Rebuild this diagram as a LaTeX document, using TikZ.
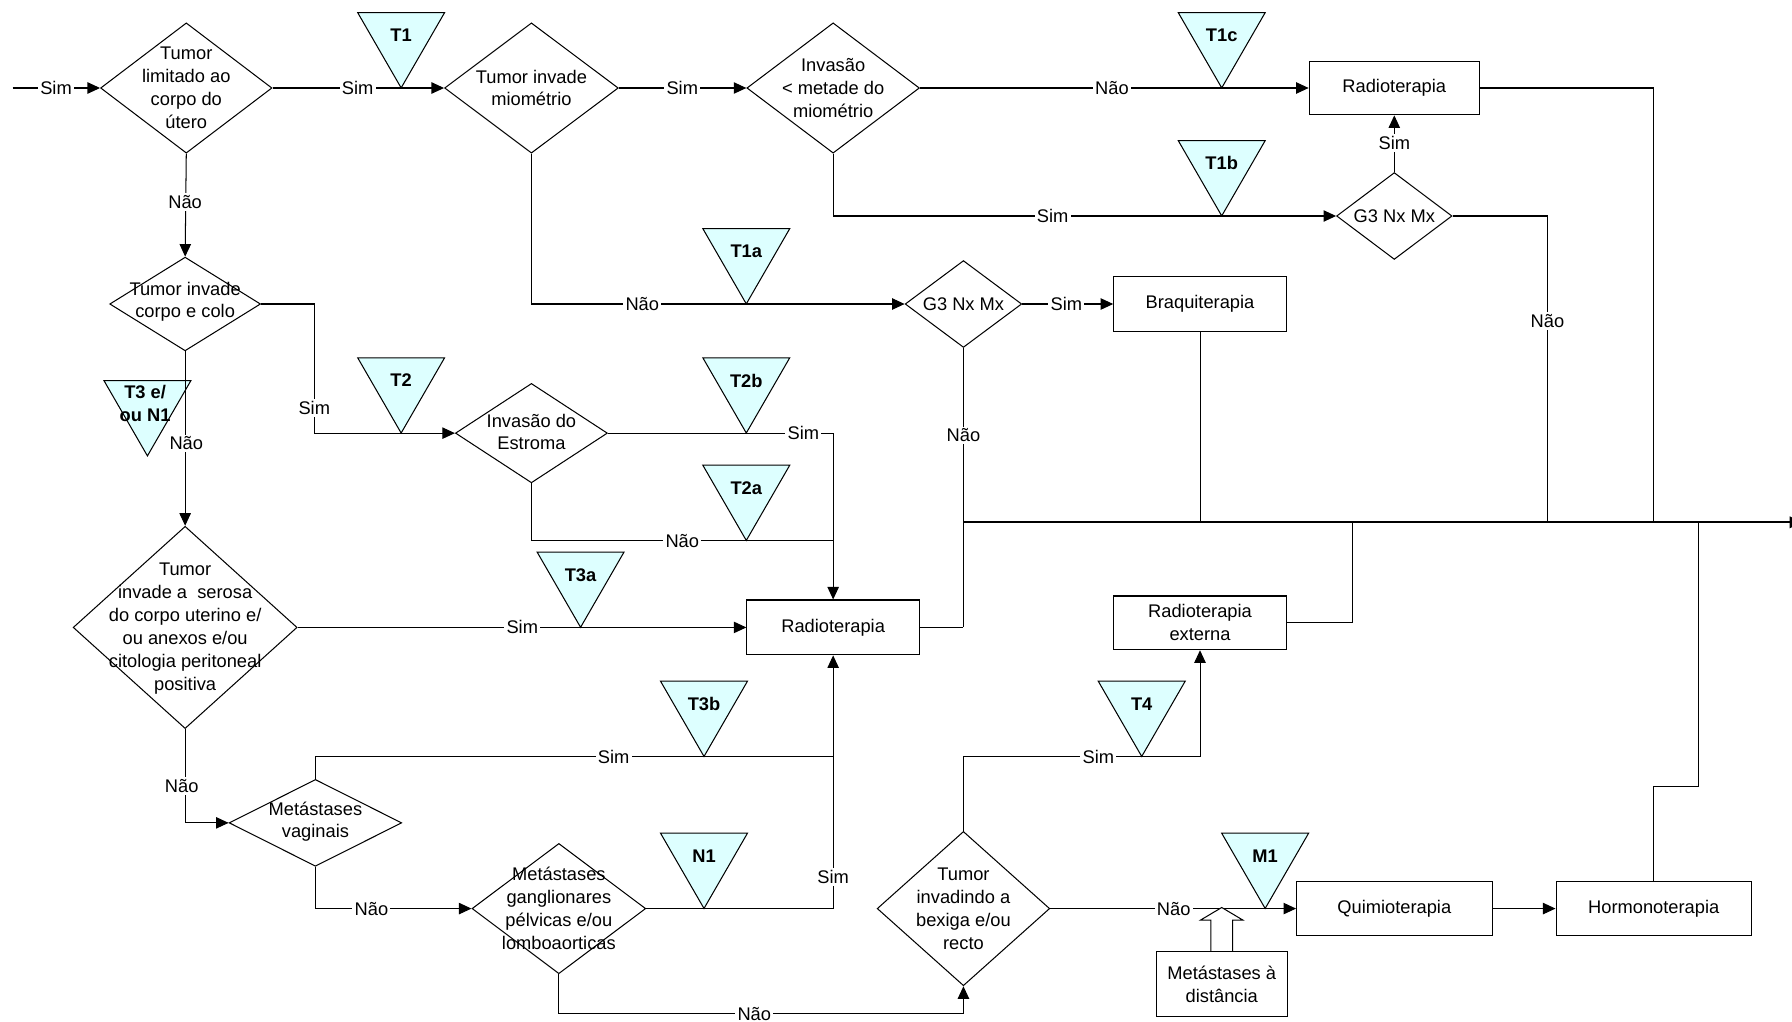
\documentclass[tikz,border=0pt]{standalone}
\usepackage{fontspec}
\setmainfont{Liberation Sans}
\usetikzlibrary{shapes.geometric,arrows.meta,calc}
\definecolor{tricyan}{HTML}{DDFFFF}
\begin{document}
\begin{tikzpicture}[x=0.5pt,y=-0.5pt,
  every node/.style={font=\fontsize{8pt}{10pt}\selectfont},
  ln/.style={line width=0.45pt},
  arr/.style={ln,-{Triangle[length=5.5pt,width=5pt]}},
  busline/.style={line width=0.8pt,-{Triangle[length=5.5pt,width=5pt]}},
  dia/.style 2 args={draw,diamond,inner sep=0pt,line width=0.45pt,
    minimum width=#1*0.5pt,minimum height=#2*0.5pt},
  box/.style 2 args={draw,rectangle,inner sep=0pt,line width=0.45pt,align=center,
    minimum width=#1*0.5pt,minimum height=#2*0.5pt},
  dtext/.style={align=center,inner sep=0pt},
  lab/.style={fill=white,inner sep=1pt},
  tri/.style={draw,fill=tricyan,regular polygon,regular polygon sides=3,
    shape border rotate=180,minimum size=87.8*0.5pt,inner sep=0pt,line width=0.45pt},
  tritext/.style={font=\fontsize{8pt}{10pt}\selectfont\bfseries,align=center,inner sep=0pt},
]
\useasboundingbox (0,0) rectangle (1568,894);

% stage markers (drawn first, connectors pass over their tips)
\node[tri] (t1)  at (351,33)   {}; \node[tritext] (t1t)  at (351,31)  {T1};
\node[tri] (t1c) at (1069,33)  {}; \node[tritext] (t1ct) at (1069,31) {T1c};
\node[tri] (t1b) at (1069,145) {}; \node[tritext] (t1bt) at (1069,143) {T1b};
\node[tri] (t1a) at (653,222)  {}; \node[tritext] (t1at) at (653,220) {T1a};
\node[tri] (t2)  at (351,335)  {}; \node[tritext] (t2t)  at (351,333) {T2};
\node[tri] (t2b) at (653,335)  {}; \node[tritext] (t2bt) at (653,333) {T2b};
\node[tri] (t2a) at (653,429)  {}; \node[tritext] (t2at) at (653,427) {T2a};
\node[tri] (t3a) at (508,505)  {}; \node[tritext] (t3at) at (508,503) {T3a};
\node[tri] (t3b) at (616,618)  {}; \node[tritext] (t3bt) at (616,616) {T3b};
\node[tri] (tn1) at (616,751)  {}; \node[tritext] (tn1t) at (616,749) {N1};
\node[tri] (t4)  at (999,618)  {}; \node[tritext] (t4t)  at (999,616) {T4};
\node[tri] (tm1) at (1107,751) {}; \node[tritext] (tm1t) at (1107,749) {M1};
\node[tri] (t3n) at (129,355)  {}; \node[tritext] (t3nt) at (127,353) {T3 e/\\ou N1};

% decisions and treatments
\node[dia={150}{114}] (d1) at (163,77) {};
\node[dtext] (d1t) at (d1.center) {Tumor\\limitado ao\\corpo do\\útero};
\node[dia={152}{114}] (d2) at (465,77) {};
\node[dtext] (d2t) at (d2.center) {Tumor invade\\miométrio};
\node[dia={151}{114}] (d3) at (729,77) {};
\node[dtext] (d3t) at (d3.center) {Invasão\\< metade do\\miométrio};
\node[box={149}{47}] (r1) at (1220,77) {Radioterapia};
\node[dia={101}{76}] (g3b) at (1220,189) {};
\node[dtext] (g3bt) at (g3b.center) {G3 Nx Mx};
\node[dia={102}{76}] (g3a) at (843,266) {};
\node[dtext] (g3at) at (g3a.center) {G3 Nx Mx};
\node[box={151}{48}] (braq) at (1050,266) {Braquiterapia};
\node[dia={132}{82}] (d4) at (162,266) {};
\node[dtext] (d4t) at (162,264) {Tumor invade\\corpo e colo};
\node[dia={133}{87}] (d5) at (465,379) {};
\node[dtext] (d5t) at (465,378) {Invasão do\\Estroma};
\node[box={151}{48}] (r2) at (729,549) {Radioterapia};
\node[dia={196}{177}] (d6) at (162,549) {};
\node[dtext] (d6t) at (162,550) {Tumor\\invade a~ serosa\\do corpo uterino e/\\ou anexos e/ou\\citologia peritoneal\\positiva};
\node[dia={151}{76}] (d7) at (276,720) {};
\node[dtext] (d7t) at (276,719) {Metástases\\vaginais};
\node[dia={152}{114}] (d8) at (489,795) {};
\node[dtext] (d8t) at (489,795) {Metástases\\ganglionares\\pélvicas e/ou\\lomboaorticas};
\node[dia={151}{135}] (d9) at (843,795) {};
\node[dtext] (d9t) at (843,795) {Tumor\\invadindo a\\bexiga e/ou\\recto};
\node[box={151}{47}] (re) at (1050,545) {Radioterapia\\externa};
\node[box={171}{47}] (q) at (1220,795) {Quimioterapia};
\node[box={171}{47}] (horm) at (1447,795) {Hormonoterapia};
\node[box={115}{57}] (md) at (1069,861) {Metástases à\\distância};

% junction points
\coordinate (start) at (11,77);
\coordinate (bus0) at (843,457);
\coordinate (busend) at (1577,457);
\coordinate (j1) at (843,549);
\coordinate (j2) at (729,379);
\coordinate (j3) at (729,662);
\coordinate (j4) at (843,887);
\coordinate (j5) at (1050,662);
\coordinate (j6) at (729,473);
\coordinate (c2) at (275,357);
\coordinate (c3) at (1354,457);
\coordinate (c4) at (1447,457);
\coordinate (c5) at (1183,457);
\coordinate (c6) at (1486,688);
\coordinate (c7) at (1486,457);

% connectors
\draw[arr] (start) -- (d1.west);
\draw[arr] (d1.east) -- (d2.west);
\draw[arr] (d2.east) -- (d3.west);
\draw[arr] (d3.east) -- (r1.west);
\draw[arr] (d3.south) |- (g3b.west);
\draw[arr] (g3b.north) -- (r1.south);
\draw[ln] (g3b.east) -| (c3);
\draw[ln] (r1.east) -| (c4);
\draw[arr] (d2.south) |- (g3a.west);
\draw[arr] (g3a.east) -- (braq.west);
\draw[ln] (braq.south) -- (braq.south |- bus0);
\draw[ln] (g3a.south) -- (j1);
\draw[ln] (r2.east) -- (j1);
\draw[busline] (bus0) -- (busend);
\draw[arr] (d1.south) -- (d4.north);
\draw[arr] (d4.east) -| (c2) |- (d5.west);
\draw[arr] (d5.east) -- (j2) -- (r2.north);
\draw[ln] (d5.south) |- (j6);
\draw[arr] (d4.south) -- (d6.north);
\draw[arr] (d6.east) -- (r2.west);
\draw[arr] (d6.south) |- (d7.west);
\draw[ln] (d7.north) |- (j3);
\draw[arr] (d8.east) -| (j3) -- (r2.south);
\draw[arr] (d7.south) |- (d8.west);
\draw[arr] (d8.south) |- (j4) -- (d9.south);
\draw[arr] (d9.north) |- (j5) -- (re.south);
\draw[ln] (re.east) -| (c5);
\draw[arr] (d9.east) -- (q.west);
\draw[arr] (q.east) -- (horm.west);
\draw[ln] (horm.north) |- (c6) -- (c7);
% hollow block arrow from the distant metastases box
\draw[ln,fill=white] ($(md.north)+(-9.5,0)$) -- ($(md.north)+(-9.5,-27)$)
  -- ($(md.north)+(-18.5,-27)$) -- ($(md.north)+(0,-38)$)
  -- ($(md.north)+(18.5,-27)$) -- ($(md.north)+(9.5,-27)$)
  -- ($(md.north)+(9.5,0)$);

% connector labels
\node[lab] (l1)  at (49,77)    {Sim};
\node[lab] (l2)  at (313,77)   {Sim};
\node[lab] (l3)  at (597,77)   {Sim};
\node[lab] (l4)  at (973,77)   {Não};
\node[lab] (l5)  at (921,189)  {Sim};
\node[lab] (l6)  at (1220,125) {Sim};
\node[lab] (l7)  at (1354,281) {Não};
\node[lab] (l8)  at (562,266)  {Não};
\node[lab] (l9)  at (933,266)  {Sim};
\node[lab] (l10) at (843,381)  {Não};
\node[lab] (l11) at (162,177)  {Não};
\node[lab] (l12) at (c2)       {Sim};
\node[lab] (l13) at (703,379)  {Sim};
\node[lab] (l14) at (597,473)  {Não};
\node[lab] (l15) at (163,388)  {Não};
\node[lab] (l16) at (457,549)  {Sim};
\node[lab] (l17) at (159,688)  {Não};
\node[lab] (l18) at (537,662)  {Sim};
\node[lab] (l19) at (729,767)  {Sim};
\node[lab] (l20) at (325,795)  {Não};
\node[lab] (l21) at (660,887)  {Não};
\node[lab] (l22) at (961,662)  {Sim};
\node[lab] (l23) at (1027,795) {Não};
\end{tikzpicture}
\end{document}
